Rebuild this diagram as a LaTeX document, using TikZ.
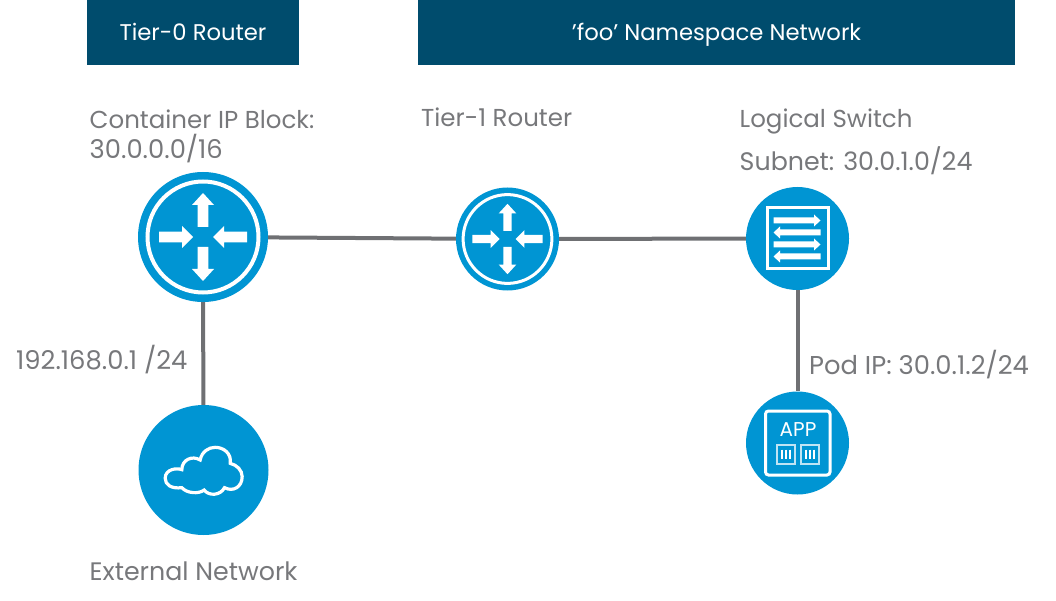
\documentclass[tikz,border=0pt]{standalone}
\usepackage{fontspec}
\setmainfont{Poppins}
\usetikzlibrary{positioning}
\definecolor{headblue}{HTML}{004C6D}
\definecolor{discblue}{HTML}{0095D3}
\definecolor{linegray}{HTML}{6F7073}
\definecolor{textgray}{HTML}{77787B}
\tikzset{
	header/.style={fill=headblue,text=white,font=\fontsize{22.7}{23}\selectfont,minimum height=65pt,inner sep=0pt,text height=16pt,text depth=0pt},
	label/.style={text=textgray,font=\fontsize{24.5}{25}\selectfont,anchor=base west,inner sep=0pt},
	numlabel/.style={label,font=\fontsize{25.8}{26}\selectfont},
	widelabel/.style={label,font=\fontsize{25.3}{26}\selectfont},
	bigdisc/.style={circle,fill=discblue,minimum size=130pt,inner sep=0pt},
	smalldisc/.style={circle,fill=discblue,minimum size=103pt,inner sep=0pt},
	wire/.style={draw=linegray,line width=4pt},
	pics/routericon/.style={code={
		\draw[white,line width=#1pt] (0,0) circle[radius=55.5];
		% Pfeile nach aussen
		\foreach \a in {0,180}
		\fill[white,rotate=\a] (-5.3,-10) -- (-5.3,-32) -- (-11,-32) -- (0,-44) -- (11,-32) -- (5.3,-32) -- (5.3,-10) -- cycle;
		% Pfeile nach innen
		\foreach \a in {90,270}
		\fill[white,rotate=\a] (-5.3,-44) -- (-5.3,-21) -- (-11,-21) -- (0,-10) -- (11,-21) -- (5.3,-21) -- (5.3,-44) -- cycle;
	}},
	pics/switchicon/.style={code={
		\draw[white,line width=3pt] (-30.5,-30.5) rectangle (30.5,30.5);
		\foreach \y in {-18,6}
		\fill[white,shift={(0,\y)}] (-24,-3) -- (16.5,-3) -- (16.5,-6) -- (23,0) -- (16.5,6) -- (16.5,3) -- (-24,3) -- cycle;
		\foreach \y in {-6,18}
		\fill[white,shift={(0,\y)}] (23,-3) -- (-17.5,-3) -- (-17.5,-6) -- (-24,0) -- (-17.5,6) -- (-17.5,3) -- (23,3) -- cycle;
	}},
	pics/appicon/.style={code={
		\draw[white,line width=3pt,rounded corners=3pt] (-32,-32) rectangle (32.5,32);
		\foreach \x in {-11.5,12.5}{
			\draw[white!75!discblue,line width=2pt] (\x-9,2) rectangle (\x+9,20.5);
			\foreach \d in {-4,0,4}
			\draw[white,line width=1.5pt] (\x+\d,6.5) -- (\x+\d,16);
		}
	}},
	pics/cloudicon/.style={code={
		\draw[white,line width=3.2pt,scale=1/3,shift={(-220,-225)}]
			(155,224) .. controls (140,218) and (105,222) .. (105,250)
			.. controls (105,270) and (125,282) .. (155,278)
			.. controls (170,295) and (205,298) .. (222,285)
			.. controls (235,303) and (270,303) .. (283,278)
			.. controls (310,292) and (336,275) .. (336,245)
			.. controls (336,225) and (320,210) .. (300,205)
			.. controls (305,175) and (280,157) .. (255,157)
			.. controls (235,157) and (215,170) .. (210,195)
			.. controls (185,180) and (155,195) .. (155,224) -- cycle;
	}},
}
\begin{document}
\begin{tikzpicture}[x=1pt,y=-1pt]
	\useasboundingbox (0,0) rectangle (1056,601);
	
	% Kopfzeilen
	\node[header,minimum width=212pt] (tier0head) at (193,32.5) {Tier-0 Router};
	\node[header,minimum width=597pt] (nshead) at (716.5,32.5) {’foo’ Namespace Network};
	
	% Knoten
	\node[bigdisc] (tier0) at (203,237) {};
	\node[smalldisc] (tier1) at (507.5,239) {};
	\node[smalldisc] (lswitch) at (797.5,238.5) {};
	\node[smalldisc] (app) at (797.5,443) {};
	\node[bigdisc] (extnet) at (203.5,470) {};
	
	% Verbindungen
	\draw[wire] (tier0) -- (tier1);
	\draw[wire] (tier1) -- (lswitch);
	\draw[wire] (tier0) -- (extnet);
	\draw[wire] (lswitch) -- (app);
	
	% Symbole
	\pic at (tier0) {routericon=4};
	\pic[scale=0.8] at (tier1) {routericon=3};
	\pic at (lswitch) {switchicon};
	\pic at (app) {appicon};
	\pic at (extnet) {cloudicon};
	\node[text=white,font=\fontsize{20}{20}\selectfont,inner sep=0pt] (apptext) at (798,429.5) {APP};
	
	% Beschriftungen
	\node[label] (blocklabel) at (89.5,129) {Container IP Block:};
	\node[numlabel] (blockip) at (89.5,159) {30.0.0.0/16};
	\node[label] (tier1label) at (421,127) {Tier-1 Router};
	\node[label] (switchlabel) at (739.5,127.5) {Logical Switch};
	\node[widelabel] (subnetlabel) at (739.5,170.5) {Subnet: 30.0.1.0/24};
	\node[numlabel] (uplinklabel) at (16,369) {192.168.0.1 /24};
	\node[numlabel] (podlabel) at (809,374) {Pod IP: 30.0.1.2/24};
	\node[widelabel] (extlabel) at (89.5,580) {External Network};
\end{tikzpicture}
\end{document}
